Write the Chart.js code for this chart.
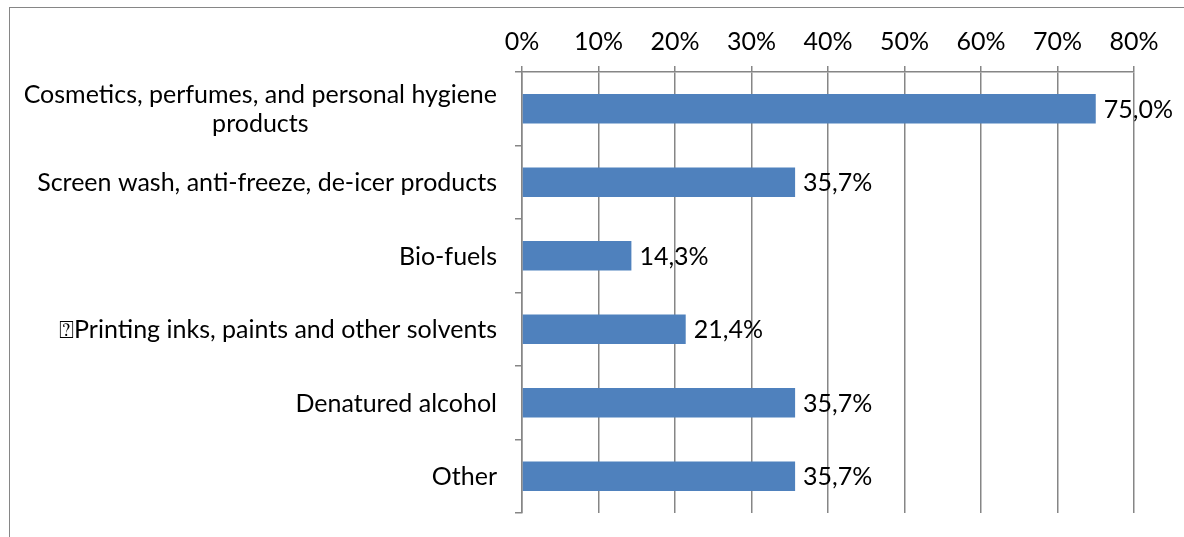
<!DOCTYPE html>
<html>
<head>
<meta charset="utf-8">
<script src="https://cdn.jsdelivr.net/npm/chart.js@4.4.0/dist/chart.umd.min.js"></script>
<style>
html, body { margin: 0; padding: 0; background: #fff; overflow: hidden; }
#frame { position: absolute; left: 9px; top: 7px; width: 1300px; height: 700px; border: 1px solid #868686; }
#wrap { position: absolute; left: 0; top: 0; width: 1184px; height: 537px; }
</style>
</head>
<body>
<div id="frame"></div>
<div id="wrap"><canvas id="chart" width="1184" height="537"></canvas></div>
<script>
// Data
const categories = [
    ['Cosmetics, perfumes, and personal hygiene', 'products'],
    'Screen wash, anti-freeze, de-icer products',
    'Bio-fuels',
    '\u2370Printing inks, paints and other solvents',
    'Denatured alcohol',
    'Other'
];
const shares = [75.0, 35.7, 14.3, 21.4, 35.7, 35.7];
const tickLabels = ['0%', '10%', '20%', '30%', '40%', '50%', '60%', '70%', '80%'];

const fontFamily = 'Lato, "Open Sans", sans-serif';
const fontSize = 25;
const gridColor = '#868686';
const barColor = '#4F81BD';

// Category labels drawn by hand so the wrapped first one centres its lines
const categoryLabels = {
    id: 'categoryLabels',
    afterDraw(chart) {
        const ctx = chart.ctx;
        const y = chart.scales.y;
        const right = y.right - 25;
        const lineH = 29;
        ctx.save();
        ctx.font = fontSize + 'px ' + fontFamily;
        ctx.fillStyle = '#000';
        ctx.textBaseline = 'middle';
        ctx.textAlign = 'center';
        categories.forEach((label, i) => {
            const lines = Array.isArray(label) ? label : [label];
            const maxW = Math.max(...lines.map(l => ctx.measureText(l).width));
            const cx = right - maxW / 2;
            const cy = y.getPixelForValue(i) + 1;
            lines.forEach((line, k) => {
                ctx.fillText(line, cx, cy + (k - (lines.length - 1) / 2) * lineH);
            });
        });
        ctx.restore();
    }
};

// Value labels to the right of each bar
const valueLabels = {
    id: 'valueLabels',
    afterDatasetsDraw(chart) {
        const ctx = chart.ctx;
        const meta = chart.getDatasetMeta(0);
        ctx.save();
        ctx.font = fontSize + 'px ' + fontFamily;
        ctx.fillStyle = '#000';
        ctx.textBaseline = 'middle';
        ctx.textAlign = 'left';
        meta.data.forEach((bar, i) => {
            const txt = shares[i].toFixed(1).replace('.', ',') + '%';
            ctx.fillText(txt, bar.x + 8, bar.y + 1);
        });
        ctx.restore();
    }
};

const ctx = document.getElementById('chart').getContext('2d');
const chart = new Chart(ctx, {
    type: 'bar',
    data: {
        labels: categories,
        datasets: [{
            data: shares,
            backgroundColor: barColor,
            borderWidth: 0,
            barPercentage: 0.4,
            categoryPercentage: 1
        }]
    },
    options: {
        indexAxis: 'y',
        responsive: false,
        animation: false,
        layout: {
            padding: { left: 0, right: 50, top: 0, bottom: 24 }
        },
        plugins: {
            legend: { display: false },
            tooltip: { enabled: false }
        },
        scales: {
            x: {
                position: 'top',
                min: 0,
                max: 80,
                ticks: {
                    stepSize: 10,
                    padding: 9,
                    color: '#000',
                    font: { family: fontFamily, size: fontSize },
                    callback: (v, i) => tickLabels[i]
                },
                grid: {
                    color: gridColor,
                    lineWidth: 1.5,
                    tickLength: 6
                },
                border: { display: true, color: gridColor, width: 1.5 },
                afterFit(scale) { scale.height = 72; }
            },
            y: {
                ticks: { display: false },
                grid: {
                    offset: true,
                    drawOnChartArea: false,
                    color: gridColor,
                    lineWidth: 1.5,
                    tickLength: 7
                },
                border: { display: true, color: gridColor, width: 1.5 },
                afterFit(scale) { scale.width = 522; }
            }
        }
    },
    plugins: [categoryLabels, valueLabels]
});
</script>
</body>
</html>
